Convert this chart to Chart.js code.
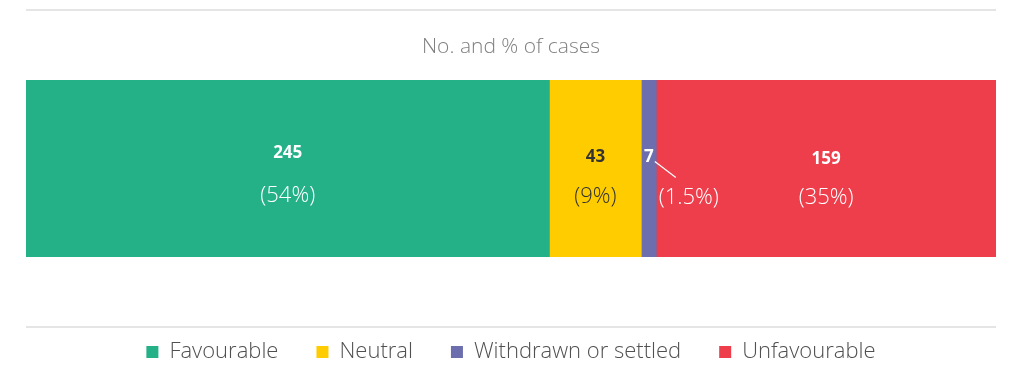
<!DOCTYPE html>
<html>
<head>
<meta charset="utf-8">
<script src="https://cdn.jsdelivr.net/npm/chart.js@4.4.1/dist/chart.umd.min.js"></script>
<style>
  html, body { margin: 0; padding: 0; background: #ffffff; }
  #wrap { width: 1009px; height: 378px; position: relative; }
</style>
</head>
<body>
<div id="wrap"><canvas id="c" width="1009" height="378"></canvas></div>
<script>
const categories = ['Cases'];
const seriesNames = ['Favourable', 'Neutral', 'Withdrawn or settled', 'Unfavourable'];
const caseCounts = [245, 43, 7, 159];
const percentLabels = ['(54%)', '(9%)', '(1.5%)', '(35%)'];
const seriesColors = ['#24B188', '#FFCC00', '#6C6EAE', '#EE3D4B'];
const labelColors = ['#ffffff', '#333333', '#ffffff', '#ffffff'];
const chartTitle = 'No. and % of cases';

const FONT = '"Open Sans"';

const labelPlugin = {
  id: 'segLabels',
  afterDatasetsDraw(chart) {
    const ctx = chart.ctx;
    const numDy = [-15, -11, -11, -9];
    const pctDy = [27, 28, 29, 29];
    ctx.save();
    ctx.textAlign = 'center';
    ctx.textBaseline = 'middle';
    chart.data.datasets.forEach((ds, i) => {
      const bar = chart.getDatasetMeta(i).data[0];
      const cx = (bar.x + bar.base) / 2;
      const cy = bar.y;
      ctx.fillStyle = labelColors[i];
      ctx.font = 'bold 17px ' + FONT;
      ctx.fillText(String(caseCounts[i]), cx, cy + numDy[i]);
      ctx.font = '300 22px ' + FONT;
      if (i === 2) {
        ctx.strokeStyle = '#ffffff';
        ctx.lineWidth = 1.2;
        ctx.beginPath();
        ctx.moveTo(cx + 6, cy - 7);
        ctx.lineTo(cx + 27, cy + 9);
        ctx.stroke();
        ctx.fillText(percentLabels[i], cx + 40, cy + pctDy[i]);
      } else {
        ctx.fillText(percentLabels[i], cx, cy + pctDy[i]);
      }
    });
    ctx.restore();
  }
};

const rulePlugin = {
  id: 'rules',
  afterDraw(chart) {
    const ctx = chart.ctx;
    const a = chart.chartArea;
    ctx.save();
    ctx.strokeStyle = '#dddddd';
    ctx.lineWidth = 1.5;
    [10, 327].forEach(y => {
      ctx.beginPath();
      ctx.moveTo(a.left, y);
      ctx.lineTo(a.right, y);
      ctx.stroke();
    });
    ctx.restore();
  }
};

new Chart(document.getElementById('c'), {
  type: 'bar',
  data: {
    labels: categories,
    datasets: seriesNames.map((name, i) => ({
      label: name,
      data: [caseCounts[i]],
      backgroundColor: seriesColors[i],
      borderWidth: 0,
      barPercentage: 1,
      categoryPercentage: 1
    }))
  },
  options: {
    indexAxis: 'y',
    responsive: false,
    animation: false,
    layout: { padding: { left: 26, right: 13, top: 0, bottom: 5 } },
    scales: {
      x: {
        stacked: true,
        min: 0,
        max: 454,
        display: true,
        grid: { display: false },
        border: { display: false },
        ticks: { display: false },
        afterFit(scale) { scale.height = 46; }
      },
      y: {
        stacked: true,
        display: false
      }
    },
    plugins: {
      title: {
        display: true,
        text: chartTitle,
        color: '#808080',
        font: { family: FONT, size: 21, weight: '300' },
        padding: { top: 34.4, bottom: 20.4 }
      },
      legend: {
        display: true,
        position: 'bottom',
        labels: {
          boxWidth: 12,
          boxHeight: 12,
          padding: 38,
          color: '#505050',
          font: { family: FONT, size: 22, weight: '300' }
        }
      },
      tooltip: { enabled: false }
    }
  },
  plugins: [labelPlugin, rulePlugin]
});
</script>
</body>
</html>
